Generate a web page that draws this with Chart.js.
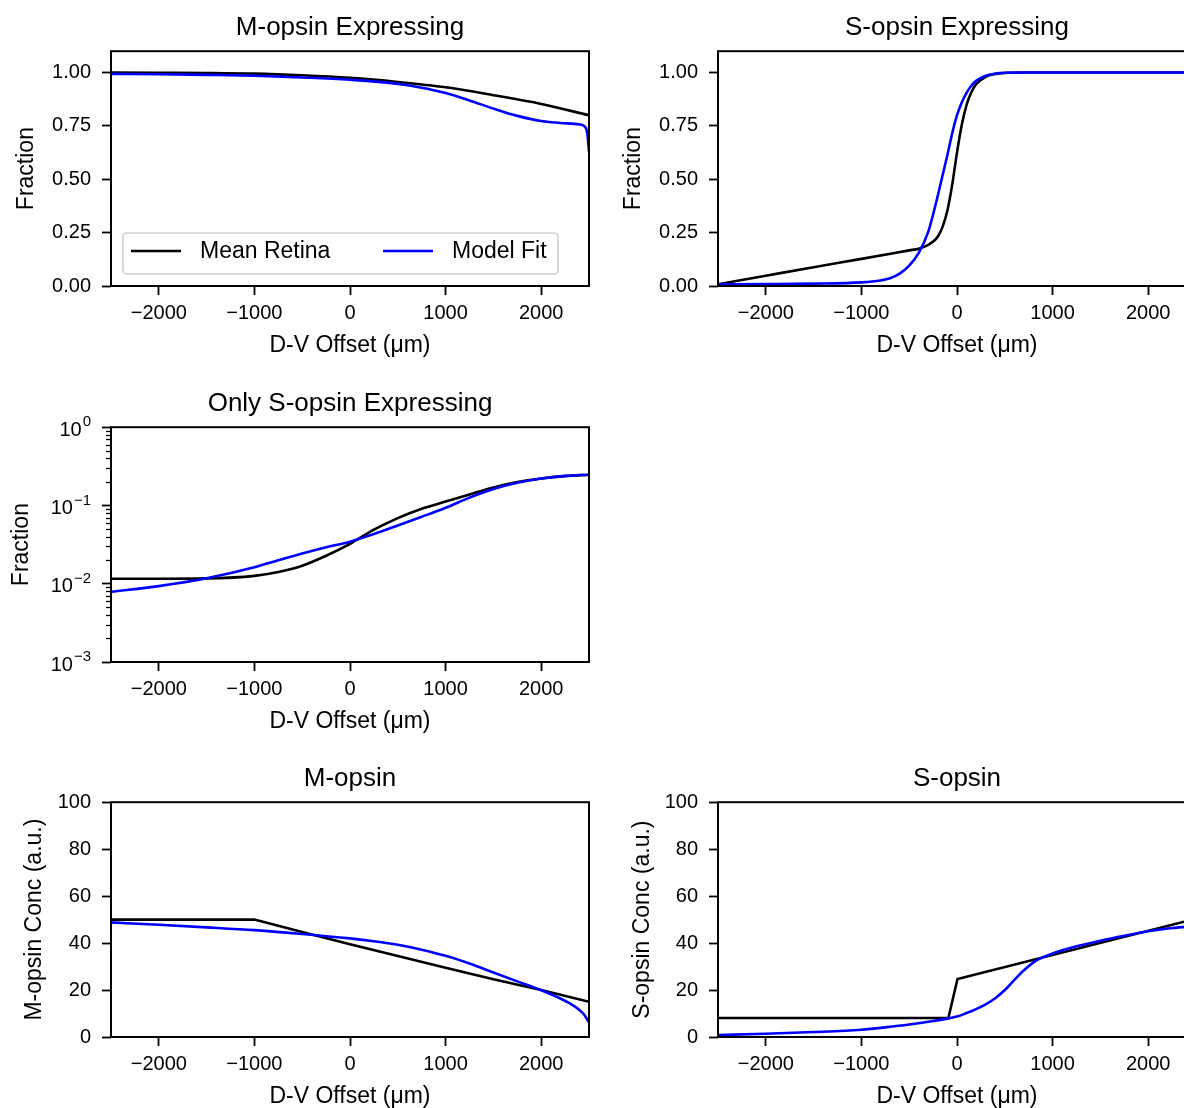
<!DOCTYPE html>
<html lang="en">
<head>
<meta charset="UTF-8">
<title>Opsin expression along the D-V axis</title>
<script src="https://cdn.jsdelivr.net/npm/chart.js"></script>
<style>
  html, body { margin: 0; padding: 0; overflow: hidden; background: #fff; }
  body { width: 1184px; height: 1108px; position: relative; }
  canvas { position: absolute; }
</style>
</head>
<body>
<canvas id="mFrac" width="700" height="376" style="left:0;top:0"></canvas>
<canvas id="sFrac" width="700" height="376" style="left:607px;top:0"></canvas>
<canvas id="onlyS" width="700" height="376" style="left:0;top:376px"></canvas>
<canvas id="mConc" width="700" height="376" style="left:0;top:751px"></canvas>
<canvas id="sConc" width="700" height="376" style="left:607px;top:751px"></canvas>

<script>
// ---- data (x = D-V offset in um) ----
const xTicks = [-2000, -1000, 0, 1000, 2000];
const fracTicks = [0, 0.25, 0.5, 0.75, 1.0];
const concTicks = [0, 20, 40, 60, 80, 100];
const logTicks = [1e-3, 1e-2, 1e-1, 1];

// M-opsin expressing fraction
const mFracMeanX = [-2500, -2000, -1500, -1000, -500, 0, 500, 1000, 1500, 2000, 2500];
const mFracMean  = [1.0, 0.999, 0.998, 0.995, 0.987, 0.975, 0.956, 0.931, 0.894, 0.853, 0.80];
const mFracFitX  = [-2500, -2000, -1500, -1000, -500, 0, 500, 750, 1000, 1250, 1500, 1750, 2000, 2200, 2400, 2450, 2480, 2500];
const mFracFit   = [0.994, 0.992, 0.989, 0.985, 0.977, 0.966, 0.947, 0.929, 0.904, 0.869, 0.831, 0.797, 0.773, 0.764, 0.757, 0.749, 0.72, 0.63];

// S-opsin expressing fraction
const sFracMeanX = [-2500, -2000, -1500, -1000, -500, -400, -300, -250, -200, -150, -100, -50, 0, 50, 100, 150, 200, 300, 400, 500, 700, 1000, 2500];
const sFracMean  = [0.008, 0.048, 0.088, 0.127, 0.167, 0.175, 0.193, 0.208, 0.232, 0.278, 0.355, 0.475, 0.625, 0.755, 0.848, 0.908, 0.945, 0.98, 0.993, 0.998, 1.0, 1.0, 1.0];
const sFracFitX  = [-2500, -2000, -1500, -1000, -800, -700, -600, -500, -400, -300, -250, -200, -150, -100, -50, 0, 50, 100, 150, 200, 300, 400, 500, 700, 2500];
const sFracFit   = [0.008, 0.009, 0.011, 0.017, 0.026, 0.036, 0.058, 0.095, 0.155, 0.255, 0.335, 0.425, 0.52, 0.615, 0.715, 0.80, 0.86, 0.905, 0.938, 0.961, 0.985, 0.995, 0.999, 1.0, 1.0];

// only S-opsin expressing fraction (log axis)
const onlySX    = [-2500, -2000, -1500, -1000, -750, -500, -250, 0, 250, 500, 750, 1000, 1250, 1500, 1750, 2000, 2250, 2500];
const onlySMean = [0.0116, 0.0116, 0.0117, 0.0126, 0.0141, 0.0170, 0.0228, 0.0324, 0.049, 0.069, 0.091, 0.112, 0.138, 0.170, 0.1995, 0.221, 0.237, 0.247];
const onlySFit  = [0.00789, 0.00933, 0.01175, 0.01622, 0.01995, 0.02427, 0.02917, 0.03451, 0.04315, 0.05546, 0.07161, 0.0933, 0.1259, 0.1622, 0.195, 0.2213, 0.2388, 0.2472];

// M-opsin concentration
const mConcMeanX = [-2500, -1000, -500, 0, 500, 1000, 1500, 2000, 2500];
const mConcMean  = [50, 50, 44.7, 39.5, 34.5, 29.5, 24.6, 20, 15];
const mConcFitX  = [-2500, -2000, -1500, -1000, -500, 0, 250, 500, 750, 1000, 1250, 1500, 1750, 2000, 2200, 2300, 2400, 2450, 2500];
const mConcFit   = [48.8, 47.8, 46.7, 45.5, 43.9, 42.0, 40.8, 39.3, 37.2, 34.6, 31.3, 27.5, 23.7, 19.9, 16.4, 14.3, 11.5, 9.5, 6.2];

// S-opsin concentration
const sConcMeanX = [-2500, -90, 5, 2500];
const sConcMean  = [8.1, 8.1, 24.7, 50.4];
const sConcFitX  = [-2500, -2000, -1500, -1000, -750, -500, -250, 0, 100, 200, 300, 400, 500, 600, 700, 800, 900, 1000, 1250, 1500, 1750, 2000, 2250, 2500];
const sConcFit   = [0.85, 1.4, 2.1, 3.1, 4.1, 5.3, 6.8, 8.7, 10.2, 11.9, 13.9, 16.5, 20.0, 24.3, 28.4, 31.8, 34.0, 35.6, 38.6, 41.0, 43.1, 45.0, 46.4, 47.3];

Chart.defaults.font.family = "'Liberation Sans', Arial, Helvetica, sans-serif";
Chart.defaults.color = '#000';

function pts(xs, ys) {
    return xs.map((x, i) => ({ x: x, y: ys[i] }));
}

function minusFmt(v) {
    return v < 0 ? '\u2212' + Math.abs(v) : String(v);
}

// box around the plot area, like matplotlib spines
const frame = {
    id: 'frame',
    afterDatasetsDraw(chart) {
        const ca = chart.chartArea, ctx = chart.ctx;
        ctx.save();
        ctx.strokeStyle = '#000';
        ctx.lineWidth = 2;
        ctx.strokeRect(ca.left, ca.top, ca.right - ca.left, ca.bottom - ca.top);
        ctx.restore();
    }
};

// legend drawn inside the first panel, lower left
const legendInside = {
    id: 'legendInside',
    afterDraw(chart) {
        if (!chart.options.plugins.legendInside || !chart.options.plugins.legendInside.show) return;
        const ca = chart.chartArea, ctx = chart.ctx;
        const left = ca.left + 12, top = ca.bottom - 53, w = 435, h = 41;
        ctx.save();
        ctx.fillStyle = 'rgba(255,255,255,0.8)';
        ctx.strokeStyle = '#d0d0d0';
        ctx.lineWidth = 1.6;
        ctx.beginPath();
        ctx.roundRect(left, top, w, h, 4);
        ctx.fill();
        ctx.stroke();
        const offsets = [8, 260];
        ctx.font = "23px 'Liberation Sans', Arial, sans-serif";
        ctx.textBaseline = 'middle';
        ctx.textAlign = 'left';
        chart.data.datasets.forEach((ds, i) => {
            const x0 = left + offsets[i];
            ctx.strokeStyle = ds.borderColor;
            ctx.lineWidth = ds.borderWidth;
            ctx.beginPath();
            ctx.moveTo(x0, top + 18);
            ctx.lineTo(x0 + 50, top + 18);
            ctx.stroke();
            ctx.fillStyle = '#000';
            ctx.fillText(ds.label, x0 + 69, top + 19);
        });
        ctx.restore();
    }
};

// 10^n labels and minor ticks for the log axis
const logAxis = {
    id: 'logAxis',
    afterDraw(chart) {
        const ys = chart.scales.y;
        if (ys.type !== 'logarithmic') return;
        const ctx = chart.ctx, ca = chart.chartArea;
        ctx.save();
        ctx.fillStyle = '#000';
        ctx.strokeStyle = '#000';
        ctx.lineWidth = 1.3;
        for (let e = -3; e < 0; e++) {
            for (let k = 2; k <= 9; k++) {
                const y = Math.round(ys.getPixelForValue(k * Math.pow(10, e))) + 0.5;
                ctx.beginPath();
                ctx.moveTo(ca.left - 5, y);
                ctx.lineTo(ca.left, y);
                ctx.stroke();
            }
        }
        const xr = ca.left - 20;
        ctx.textBaseline = 'middle';
        ctx.textAlign = 'right';
        logTicks.forEach(v => {
            const e = Math.round(Math.log10(v));
            const y = ys.getPixelForValue(v);
            const ex = e < 0 ? '\u2212' + Math.abs(e) : String(e);
            ctx.font = "15px 'Liberation Sans', Arial, sans-serif";
            ctx.fillText(ex, xr, y - 5);
            const w = ctx.measureText(ex).width;
            ctx.font = "20px 'Liberation Sans', Arial, sans-serif";
            ctx.fillText('10', xr - w - 1, y + 3);
        });
        ctx.restore();
    }
};

function makeChart(id, title, meanPts, fitPts, opts) {
    const tickGrid = { drawOnChartArea: false, drawTicks: true, tickLength: 9, tickColor: '#000', tickWidth: 1.8 };
    let yScale;
    if (opts.log) {
        yScale = {
            type: 'logarithmic', min: 1e-3, max: 1,
            afterBuildTicks: s => { s.ticks = logTicks.map(v => ({ value: v })); },
            ticks: { callback: () => '', autoSkip: false }
        };
    } else {
        const t = opts.yTicks;
        yScale = {
            type: 'linear', min: 0, max: opts.yMax,
            afterBuildTicks: s => { s.ticks = t.map(v => ({ value: v })); },
            ticks: { callback: opts.yFmt, autoSkip: false }
        };
    }
    yScale.afterFit = s => { s.width = 111; };
    yScale.ticks.font = { size: 20 };
    yScale.ticks.padding = 11;
    yScale.grid = tickGrid;
    yScale.border = { display: false };
    yScale.title = { display: true, text: opts.yTitle, font: { size: 23 }, padding: { top: opts.yTitlePad, bottom: 0 } };

    return new Chart(document.getElementById(id), {
        type: 'line',
        data: {
            datasets: [
                { label: 'Mean Retina', data: meanPts, borderColor: '#000000', borderWidth: 2.6, pointRadius: 0,
                  order: 1, cubicInterpolationMode: opts.meanSmooth ? 'monotone' : 'default', tension: 0 },
                { label: 'Model Fit', data: fitPts, borderColor: '#0000ff', borderWidth: 2.6, pointRadius: 0,
                  order: 0, cubicInterpolationMode: 'monotone' }
            ]
        },
        options: {
            responsive: false,
            animation: false,
            layout: { padding: 0 },
            plugins: {
                legend: { display: false },
                tooltip: { enabled: false },
                title: { display: true, text: title, font: { size: 26, weight: 'normal' }, color: '#000', padding: { top: 12, bottom: 8 } },
                legendInside: { show: !!opts.legend }
            },
            scales: {
                x: {
                    type: 'linear', min: -2500, max: 2500,
                    afterBuildTicks: s => { s.ticks = xTicks.map(v => ({ value: v })); },
                    afterFit: s => { s.height = 90; },
                    ticks: { font: { size: 20 }, padding: 6, maxRotation: 0, autoSkip: false, callback: minusFmt },
                    grid: tickGrid,
                    border: { display: false },
                    title: { display: true, text: 'D-V Offset (\u03bcm)', font: { size: 23 }, padding: { top: 0, bottom: 17 } }
                },
                y: yScale,
                // empty right-hand box so the plot (and its title) sit centred like the original grid
                yPad: {
                    position: 'right', display: true,
                    afterFit: s => { s.width = 111; },
                    ticks: { display: false },
                    grid: { display: false },
                    border: { display: false }
                }
            }
        },
        plugins: [frame, legendInside, logAxis]
    });
}

makeChart('mFrac', 'M-opsin Expressing', pts(mFracMeanX, mFracMean), pts(mFracFitX, mFracFit),
    { yTicks: fracTicks, yMax: 1.1, yFmt: v => v.toFixed(2), yTitle: 'Fraction', yTitlePad: 13, meanSmooth: true, legend: true });
makeChart('sFrac', 'S-opsin Expressing', pts(sFracMeanX, sFracMean), pts(sFracFitX, sFracFit),
    { yTicks: fracTicks, yMax: 1.1, yFmt: v => v.toFixed(2), yTitle: 'Fraction', yTitlePad: 13, meanSmooth: true });
makeChart('onlyS', 'Only S-opsin Expressing', pts(onlySX, onlySMean), pts(onlySX, onlySFit),
    { log: true, yTitle: 'Fraction', yTitlePad: 8, meanSmooth: true });
makeChart('mConc', 'M-opsin', pts(mConcMeanX, mConcMean), pts(mConcFitX, mConcFit),
    { yTicks: concTicks, yMax: 100, yFmt: v => String(v), yTitle: 'M-opsin Conc (a.u.)', yTitlePad: 21, meanSmooth: false });
makeChart('sConc', 'S-opsin', pts(sConcMeanX, sConcMean), pts(sConcFitX, sConcFit),
    { yTicks: concTicks, yMax: 100, yFmt: v => String(v), yTitle: 'S-opsin Conc (a.u.)', yTitlePad: 22, meanSmooth: false });
</script>
</body>
</html>
